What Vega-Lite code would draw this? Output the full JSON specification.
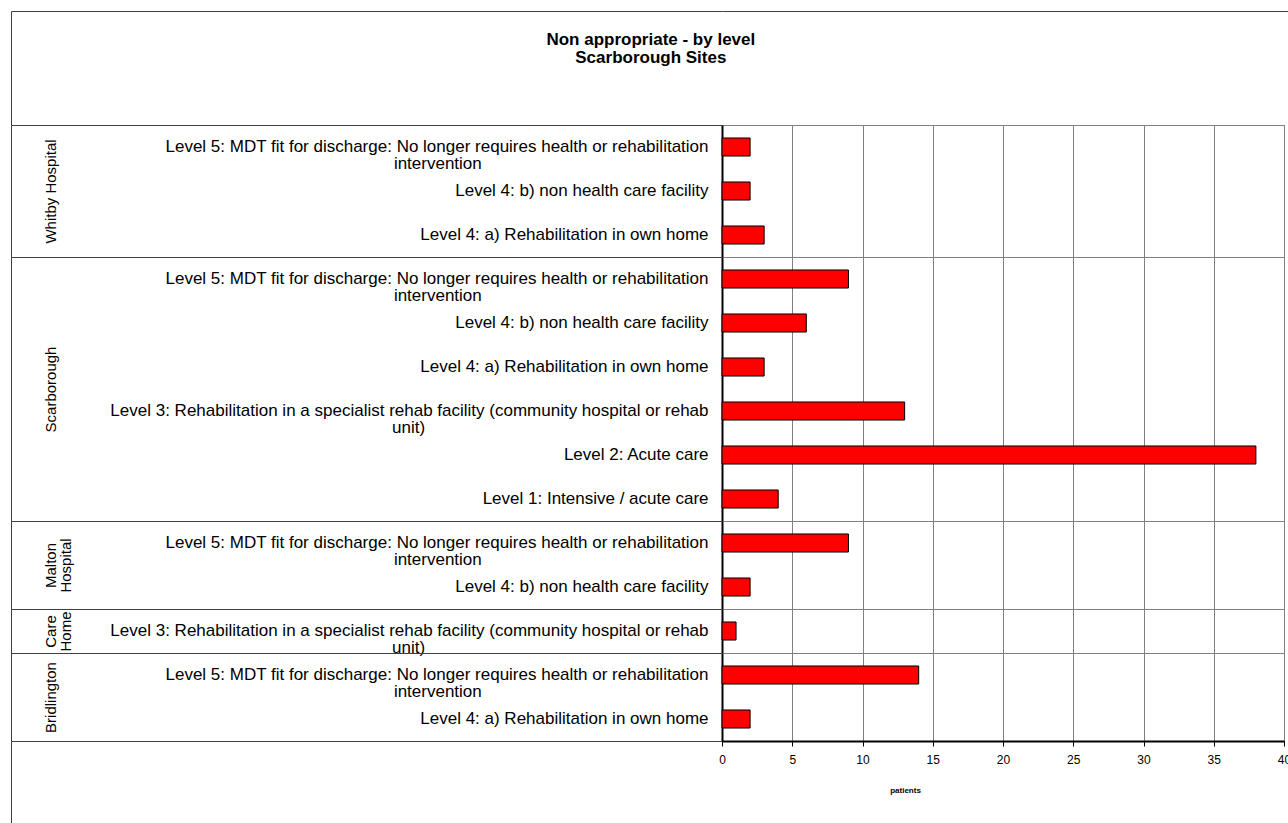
{
  "$schema": "https://vega.github.io/schema/vega-lite/v6.json",
  "background": "white",
  "padding": {"left": 10, "top": 10, "right": 0, "bottom": 0},
  "title": {"text": ["Non appropriate - by level", "Scarborough Sites"], "anchor": "middle", "fontSize": 17, "fontWeight": "bold", "lineHeight": 18, "offset": -56, "color": "#000000"},
  "datasets": {
    "rows": [
      {"site": "Whitby Hospital", "level": "Level 5: MDT fit for discharge: No longer requires health or rehabilitation intervention", "patients": 2},
      {"site": "Whitby Hospital", "level": "Level 4: b) non health care facility", "patients": 2},
      {"site": "Whitby Hospital", "level": "Level 4: a) Rehabilitation in own home", "patients": 3},
      {"site": "Scarborough", "level": "Level 5: MDT fit for discharge: No longer requires health or rehabilitation intervention", "patients": 9},
      {"site": "Scarborough", "level": "Level 4: b) non health care facility", "patients": 6},
      {"site": "Scarborough", "level": "Level 4: a) Rehabilitation in own home", "patients": 3},
      {"site": "Scarborough", "level": "Level 3: Rehabilitation in a specialist rehab facility (community hospital or rehab unit)", "patients": 13},
      {"site": "Scarborough", "level": "Level 2: Acute care", "patients": 38},
      {"site": "Scarborough", "level": "Level 1: Intensive / acute care", "patients": 4},
      {"site": "Malton Hospital", "level": "Level 5: MDT fit for discharge: No longer requires health or rehabilitation intervention", "patients": 9},
      {"site": "Malton Hospital", "level": "Level 4: b) non health care facility", "patients": 2},
      {"site": "Care Home", "level": "Level 3: Rehabilitation in a specialist rehab facility (community hospital or rehab unit)", "patients": 1},
      {"site": "Bridlington", "level": "Level 5: MDT fit for discharge: No longer requires health or rehabilitation intervention", "patients": 14},
      {"site": "Bridlington", "level": "Level 4: a) Rehabilitation in own home", "patients": 2}
    ]
  },
  "columns": 2,
  "spacing": 0,
  "bounds": "flush",
  "concat": [
    {"width": 711, "height": 114, "view": {"stroke": "#404040", "strokeDash": [711, 825, 114, 0]}, "data": {"values": [{}]}, "mark": {"type": "text", "text": ""}},
    {"width": 566, "height": 114, "view": {"stroke": "#404040", "strokeDash": [566, 794]}, "data": {"values": [{}]}, "mark": {"type": "text", "text": ""}},

    {"width": 711, "height": 132, "view": {"stroke": "#404040"}, "data": {"values": [{}]}, "mark": {"type": "text", "text": ""}},
    {
      "width": 562, "height": 132,
      "view": {"stroke": "#808080"},
      "data": {"name": "rows"},
      "transform": [{"filter": "datum.site === 'Whitby Hospital'"}],
      "mark": {"type": "bar", "fill": "#ff0000", "stroke": "#000000", "strokeWidth": 1},
      "encoding": {
        "y": {"field": "level", "type": "nominal", "sort": null,
          "scale": {"paddingInner": 0.59, "paddingOuter": 0.295},
          "axis": {"title": "Whitby Hospital", "titleX": -664,
            "labelExpr": "length(datum.label) > 84 ? [slice(datum.label, 0, lastindexof(slice(datum.label, 0, 85), ' ')), pad(slice(datum.label, lastindexof(slice(datum.label, 0, 85), ' ') + 1), (length(datum.label) - lastindexof(slice(datum.label, 0, 85), ' ') - 1) + floor(0.77 * (2 * lastindexof(slice(datum.label, 0, 85), ' ') + 1 - length(datum.label))), '\u00a0') + '\u200b'] : datum.label"}},
        "x": {"field": "patients", "type": "quantitative", "scale": {"domain": [0, 40]},
          "axis": {"values": [0, 5, 10, 15, 20, 25, 30, 35, 40], "labels": false, "ticks": false, "domain": false, "title": null, "grid": true}}
      }
    },

    {"width": 711, "height": 264, "view": {"stroke": "#404040"}, "data": {"values": [{}]}, "mark": {"type": "text", "text": ""}},
    {
      "width": 562, "height": 264,
      "view": {"stroke": "#808080"},
      "data": {"name": "rows"},
      "transform": [{"filter": "datum.site === 'Scarborough'"}],
      "mark": {"type": "bar", "fill": "#ff0000", "stroke": "#000000", "strokeWidth": 1},
      "encoding": {
        "y": {"field": "level", "type": "nominal", "sort": null,
          "scale": {"paddingInner": 0.59, "paddingOuter": 0.295},
          "axis": {"title": "Scarborough", "titleX": -664,
            "labelExpr": "length(datum.label) > 84 ? [slice(datum.label, 0, lastindexof(slice(datum.label, 0, 85), ' ')), pad(slice(datum.label, lastindexof(slice(datum.label, 0, 85), ' ') + 1), (length(datum.label) - lastindexof(slice(datum.label, 0, 85), ' ') - 1) + floor(0.77 * (2 * lastindexof(slice(datum.label, 0, 85), ' ') + 1 - length(datum.label))), '\u00a0') + '\u200b'] : datum.label"}},
        "x": {"field": "patients", "type": "quantitative", "scale": {"domain": [0, 40]},
          "axis": {"values": [0, 5, 10, 15, 20, 25, 30, 35, 40], "labels": false, "ticks": false, "domain": false, "title": null, "grid": true}}
      }
    },

    {"width": 711, "height": 88, "view": {"stroke": "#404040"}, "data": {"values": [{}]}, "mark": {"type": "text", "text": ""}},
    {
      "width": 562, "height": 88,
      "view": {"stroke": "#808080"},
      "data": {"name": "rows"},
      "transform": [{"filter": "datum.site === 'Malton Hospital'"}],
      "mark": {"type": "bar", "fill": "#ff0000", "stroke": "#000000", "strokeWidth": 1},
      "encoding": {
        "y": {"field": "level", "type": "nominal", "sort": null,
          "scale": {"paddingInner": 0.59, "paddingOuter": 0.295},
          "axis": {"title": ["Malton", "Hospital"], "titleX": -664,
            "labelExpr": "length(datum.label) > 84 ? [slice(datum.label, 0, lastindexof(slice(datum.label, 0, 85), ' ')), pad(slice(datum.label, lastindexof(slice(datum.label, 0, 85), ' ') + 1), (length(datum.label) - lastindexof(slice(datum.label, 0, 85), ' ') - 1) + floor(0.77 * (2 * lastindexof(slice(datum.label, 0, 85), ' ') + 1 - length(datum.label))), '\u00a0') + '\u200b'] : datum.label"}},
        "x": {"field": "patients", "type": "quantitative", "scale": {"domain": [0, 40]},
          "axis": {"values": [0, 5, 10, 15, 20, 25, 30, 35, 40], "labels": false, "ticks": false, "domain": false, "title": null, "grid": true}}
      }
    },

    {"width": 711, "height": 44, "view": {"stroke": "#404040"}, "data": {"values": [{}]}, "mark": {"type": "text", "text": ""}},
    {
      "width": 562, "height": 44,
      "view": {"stroke": "#808080"},
      "data": {"name": "rows"},
      "transform": [{"filter": "datum.site === 'Care Home'"}],
      "mark": {"type": "bar", "fill": "#ff0000", "stroke": "#000000", "strokeWidth": 1},
      "encoding": {
        "y": {"field": "level", "type": "nominal", "sort": null,
          "scale": {"paddingInner": 0.59, "paddingOuter": 0.295},
          "axis": {"title": ["Care", "Home"], "titleX": -664,
            "labelExpr": "length(datum.label) > 84 ? [slice(datum.label, 0, lastindexof(slice(datum.label, 0, 85), ' ')), pad(slice(datum.label, lastindexof(slice(datum.label, 0, 85), ' ') + 1), (length(datum.label) - lastindexof(slice(datum.label, 0, 85), ' ') - 1) + floor(0.77 * (2 * lastindexof(slice(datum.label, 0, 85), ' ') + 1 - length(datum.label))), '\u00a0') + '\u200b'] : datum.label"}},
        "x": {"field": "patients", "type": "quantitative", "scale": {"domain": [0, 40]},
          "axis": {"values": [0, 5, 10, 15, 20, 25, 30, 35, 40], "labels": false, "ticks": false, "domain": false, "title": null, "grid": true}}
      }
    },

    {"width": 711, "height": 88, "view": {"stroke": "#404040"}, "data": {"values": [{}]}, "mark": {"type": "text", "text": ""}},
    {
      "width": 562, "height": 88,
      "view": {"stroke": "#808080"},
      "data": {"name": "rows"},
      "transform": [{"filter": "datum.site === 'Bridlington'"}],
      "mark": {"type": "bar", "fill": "#ff0000", "stroke": "#000000", "strokeWidth": 1},
      "encoding": {
        "y": {"field": "level", "type": "nominal", "sort": null,
          "scale": {"paddingInner": 0.59, "paddingOuter": 0.295},
          "axis": {"title": "Bridlington", "titleX": -664,
            "labelExpr": "length(datum.label) > 84 ? [slice(datum.label, 0, lastindexof(slice(datum.label, 0, 85), ' ')), pad(slice(datum.label, lastindexof(slice(datum.label, 0, 85), ' ') + 1), (length(datum.label) - lastindexof(slice(datum.label, 0, 85), ' ') - 1) + floor(0.77 * (2 * lastindexof(slice(datum.label, 0, 85), ' ') + 1 - length(datum.label))), '\u00a0') + '\u200b'] : datum.label"}},
        "x": {"field": "patients", "type": "quantitative", "scale": {"domain": [0, 40]},
          "axis": {"values": [0, 5, 10, 15, 20, 25, 30, 35, 40], "grid": true,
            "domainColor": "#000000", "domainWidth": 2,
            "ticks": true, "tickColor": "#000000", "tickSize": 5,
            "labelFontSize": 12, "labelPadding": 8, "labelColor": "#000000", "labelFlush": false,
            "title": "patients", "titleFontSize": 8, "titleFontWeight": "bold", "titleColor": "#000000",
            "titleX": 183, "titleY": 49, "titleBaseline": "middle", "titleAlign": "center"}}
      }
    },

    {"width": 711, "height": 82, "view": {"stroke": "#404040", "strokeDash": [0, 1504, 82, 0]}, "data": {"values": [{}]}, "mark": {"type": "text", "text": ""}}
  ],
  "config": {
    "font": "Liberation Sans",
    "view": {"stroke": null},
    "axis": {"gridColor": "#808080", "gridWidth": 1, "gridOpacity": 1},
    "axisY": {
      "domainColor": "#000000", "domainWidth": 2,
      "ticks": false,
      "labelFontSize": 17, "labelColor": "#000000", "labelLimit": 1000, "labelPadding": 14, "labelLineHeight": 17,
      "titleAngle": -90, "titleBaseline": "bottom", "titleAlign": "center",
      "titleFontSize": 15, "titleFontWeight": "normal", "titleColor": "#000000", "titleLineHeight": 15
    }
  }
}
